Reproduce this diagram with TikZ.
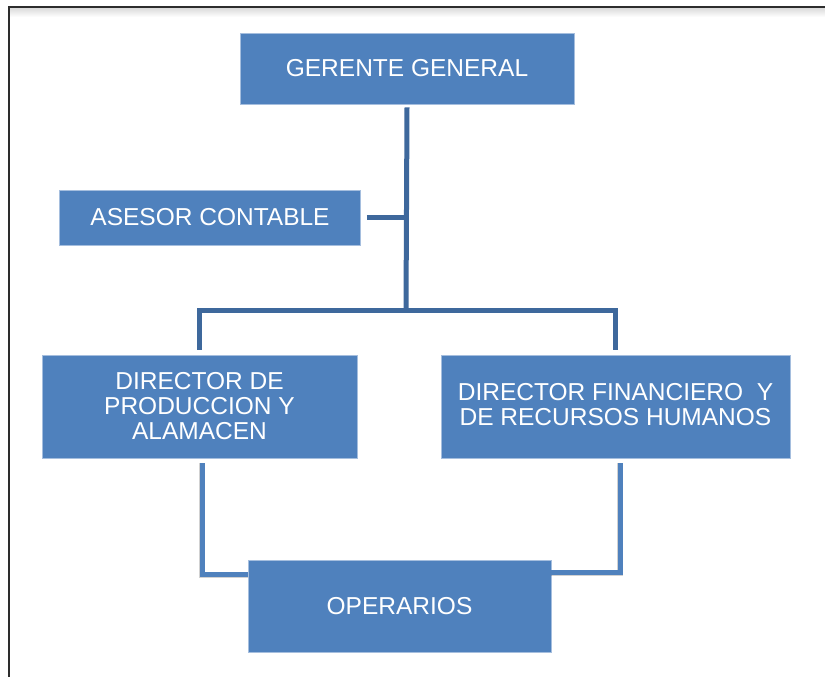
\documentclass[tikz,border=0pt]{standalone}
\usepackage{fontspec}
\setmainfont{Liberation Sans}
\definecolor{boxblue}{RGB}{79,129,189}
\definecolor{boxedge}{RGB}{165,190,222}
\definecolor{upline}{RGB}{62,104,156}
\definecolor{lowline}{RGB}{79,129,189}
\definecolor{framec}{RGB}{45,45,45}
\tikzset{
  orgbox/.style={rectangle, fill=boxblue, draw=boxedge, line width=0.8pt,
    text=white, align=center, inner sep=0pt,
    font=\fontsize{24.5}{25}\selectfont},
  upconn/.style={draw=upline, line width=5pt, line join=miter},
  lowconn/.style={draw=lowline, line width=5pt, line join=miter},
  lowshadow/.style={draw=black, opacity=0.18, line width=6pt, shift={(2pt,-3pt)}},
}
\begin{document}
\begin{tikzpicture}[x=1pt, y=-1pt]
\useasboundingbox (0,0) rectangle (825,677);
\fill[white] (0,0) rectangle (825,677);
% frame
\shade[top color=gray!28, bottom color=white] (10,8) rectangle (825,17);
\draw[framec, line width=2pt] (9,677) -- (9,7) -- (825,7);

% nodes
\node[orgbox, minimum width=334pt, minimum height=71pt] (g) at (407,68.5) {GERENTE GENERAL};
\node[orgbox, minimum width=301pt, minimum height=55pt] (a) at (210,217.5) {ASESOR CONTABLE};
\node[orgbox, minimum width=315pt, minimum height=103pt] (dp) at (199.5,406.5) {DIRECTOR DE\\PRODUCCION Y\\ALAMACEN};
\node[orgbox, minimum width=349pt, minimum height=103pt, text depth=4pt] (df) at (615.5,406.5) {DIRECTOR FINANCIERO\ \ Y\\DE RECURSOS HUMANOS};
\node[orgbox, minimum width=303pt, minimum height=92pt] (op) at (399.5,606) {OPERARIOS};

% junctions
\coordinate (jc) at (406,310);
\coordinate (ol) at ([yshift=-15pt]op.north west);
\coordinate (or) at ([yshift=-13pt]op.north east);

% upper connectors
\draw[upconn] ([yshift=-3pt]g.south) -- (jc);
\draw[upconn] ([xshift=6pt]a.east) -- (a.east -| jc);
\draw[upconn] ([yshift=5pt]dp.north) |- (jc) -| ([yshift=5pt]df.north);

% lower connectors
\draw[lowshadow] ([xshift=2.5pt,yshift=-5pt]dp.south) |- (ol);
\draw[lowshadow] ([xshift=4.5pt,yshift=-5pt]df.south) |- (or);
\draw[lowconn] ([xshift=2.5pt,yshift=-5pt]dp.south) |- (ol);
\draw[lowconn] ([xshift=4.5pt,yshift=-5pt]df.south) |- (or);
\end{tikzpicture}
\end{document}
